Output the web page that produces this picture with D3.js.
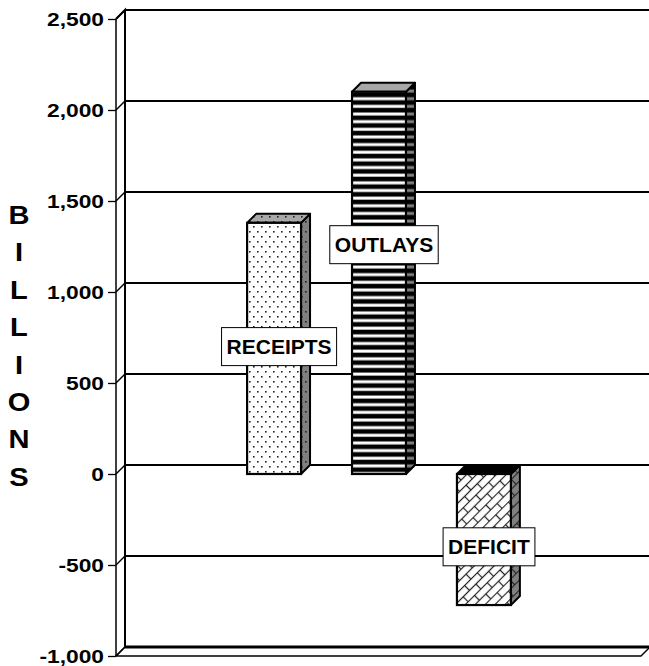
<!DOCTYPE html>
<html>
<head>
<meta charset="utf-8">
<script src="https://cdn.jsdelivr.net/npm/d3@7"></script>
<style>
  html, body { margin: 0; padding: 0; background: #fff; }
  svg { display: block; font-family: Arial, "Liberation Sans", sans-serif; }
</style>
</head>
<body>
<div id="chart"></div>
<script>
// ── data ──
const categories = ['RECEIPTS', 'OUTLAYS', 'DEFICIT'];
const values = [1380, 2100, -720];
const labelAt = [700, 1260, -400];   // value where each bar label sits
const yTicks = [-1000, -500, 0, 500, 1000, 1500, 2000, 2500];
const axisTitle = 'BILLIONS';

const W = 649, H = 666;
const depth = { dx: 9, dy: -9 };
const stretch = 1.2;   // the original lettering is a little wider than Arial

const svg = d3.select('#chart').append('svg')
  .attr('width', W).attr('height', H);

const y = d3.scaleLinear().domain([-1000, 2500]).range([656, 19]);
const x = d3.scaleBand().domain(categories)
  .range([117, 641]).paddingInner(0.486).paddingOuter(1.24);

// ── patterns ──
const defs = svg.append('defs');

function dotPattern(id, bg) {
  const p = defs.append('pattern').attr('id', id)
    .attr('patternUnits', 'userSpaceOnUse').attr('width', 8).attr('height', 10);
  p.append('rect').attr('width', 8).attr('height', 10).attr('fill', bg);
  p.append('rect').attr('x', 1).attr('y', 1).attr('width', 1.6).attr('height', 1.6).attr('fill', '#222');
  p.append('rect').attr('x', 5).attr('y', 6).attr('width', 1.6).attr('height', 1.6).attr('fill', '#222');
}
function stripePattern(id, bg) {
  const p = defs.append('pattern').attr('id', id)
    .attr('patternUnits', 'userSpaceOnUse').attr('width', 10).attr('height', 7.65)
    .attr('y', 2);
  p.append('rect').attr('width', 10).attr('height', 7.65).attr('fill', '#000');
  p.append('rect').attr('y', 3.4).attr('width', 10).attr('height', 3).attr('fill', bg);
}
function brickPattern(id, bg) {
  const p = defs.append('pattern').attr('id', id)
    .attr('patternUnits', 'userSpaceOnUse').attr('width', 18).attr('height', 14)
    .attr('patternTransform', 'rotate(-45)');
  p.append('rect').attr('width', 18).attr('height', 14).attr('fill', bg);
  const st = '#222';
  const seg = (x1, y1, x2, y2) => p.append('line')
    .attr('x1', x1).attr('y1', y1).attr('x2', x2).attr('y2', y2)
    .attr('stroke', st).attr('stroke-width', 1.2);
  seg(0, 0.5, 18, 0.5);
  seg(0, 7.5, 18, 7.5);
  seg(4.5, 0.5, 4.5, 7.5);
  seg(13.5, 7.5, 13.5, 14);
}

dotPattern('dots-front', '#fff');
dotPattern('dots-side', '#808080');
dotPattern('dots-top', '#a8a8a8');
stripePattern('stripe-front', '#fff');
stripePattern('stripe-side', '#808080');
brickPattern('brick-front', '#fff');
brickPattern('brick-side', '#808080');

const fills = [
  { front: 'url(#dots-front)', side: 'url(#dots-side)', top: 'url(#dots-top)' },
  { front: 'url(#stripe-front)', side: 'url(#stripe-side)', top: '#a8a8a8' },
  { front: 'url(#brick-front)', side: 'url(#brick-side)', top: '#000' }
];

// ── back wall, gridlines, floor ──
const xL = x.range()[0] - 1, xR = x.range()[1];
const backL = xL + depth.dx, backR = xR + depth.dx;

svg.append('g').selectAll('line.grid')
  .data(yTicks.slice(1)).enter().append('line')
  .attr('x1', backL).attr('x2', backR)
  .attr('y1', d => y(d) + depth.dy).attr('y2', d => y(d) + depth.dy)
  .attr('stroke', '#000').attr('stroke-width', 2.2);

// floor
const y0 = y(-1000);
svg.append('path')
  .attr('d', `M${xL},${y0}L${backL},${y0 + depth.dy}L${backR},${y0 + depth.dy}L${xR},${y0}Z`)
  .attr('fill', '#fff').attr('stroke', '#000').attr('stroke-width', 1.3);
svg.append('line')
  .attr('x1', backL).attr('x2', backR)
  .attr('y1', y0 + depth.dy).attr('y2', y0 + depth.dy)
  .attr('stroke', '#000').attr('stroke-width', 3);

// left wall
svg.append('path')
  .attr('d', `M${xL},${y(2500)}L${backL},${y(2500) + depth.dy}L${backL},${y0 + depth.dy}`)
  .attr('fill', 'none').attr('stroke', '#000').attr('stroke-width', 2);

// diagonal connectors from axis to back wall
svg.append('g').selectAll('line')
  .data(yTicks).enter().append('line')
  .attr('x1', xL).attr('y1', d => y(d))
  .attr('x2', backL).attr('y2', d => y(d) + depth.dy)
  .attr('stroke', '#000').attr('stroke-width', 1.5);

// ── value axis ──
const fmt = d => d3.format(',')(d).replace('\u2212', '-');
const axis = svg.append('g')
  .attr('transform', `translate(${xL},0)`)
  .call(d3.axisLeft(y).tickValues(yTicks).tickSize(8).tickPadding(4).tickFormat(fmt));
axis.select('.domain').attr('stroke-width', 1.5).attr('d', `M0,${y(2500)}V${y0}`);
axis.selectAll('.tick line').attr('stroke-width', 1.3);
axis.selectAll('text')
  .attr('fill', '#000').style('font-size', '19px').style('font-weight', 'bold')
  .attr('transform', `translate(-12,0) scale(${stretch},1) translate(12,0)`);

// axis title, stacked letters
svg.append('g').selectAll('text')
  .data(axisTitle.split('')).enter().append('text')
  .attr('x', 0).attr('y', 0)
  .attr('transform', (d, i) => `translate(19,${224 + i * 37.4}) scale(1.12,1)`)
  .attr('text-anchor', 'middle')
  .style('font-size', '26px').style('font-weight', 'bold')
  .text(d => d);

// ── bars ──
const bars = svg.append('g').selectAll('g.bar')
  .data(categories.map((c, i) => ({ c, v: values[i], i }))).enter().append('g');

bars.each(function(d) {
  const g = d3.select(this);
  const x0 = x(d.c), w = x.bandwidth();
  const yt = y(Math.max(0, d.v)), yb = y(Math.min(0, d.v));
  const f = fills[d.i];
  const dx = depth.dx, dy = depth.dy;
  // side
  g.append('path')
    .attr('d', `M${x0 + w},${yt}L${x0 + w + dx},${yt + dy}L${x0 + w + dx},${yb + dy}L${x0 + w},${yb}Z`)
    .attr('fill', f.side).attr('stroke', '#000').attr('stroke-width', 2).attr('stroke-linejoin', 'round');
  // top
  g.append('path')
    .attr('d', `M${x0},${yt}L${x0 + dx},${yt + dy}L${x0 + w + dx},${yt + dy}L${x0 + w},${yt}Z`)
    .attr('fill', f.top).attr('stroke', '#000').attr('stroke-width', 2).attr('stroke-linejoin', 'round');
  // front
  g.append('rect')
    .attr('x', x0).attr('y', yt).attr('width', w).attr('height', yb - yt)
    .attr('fill', f.front).attr('stroke', '#000').attr('stroke-width', 2.2);
});

// ── bar labels ──
const labels = svg.append('g').selectAll('g.lab')
  .data(categories.map((c, i) => ({ c, at: labelAt[i] }))).enter().append('g')
  .attr('transform', d => `translate(${x(d.c) + x.bandwidth() / 2 + 5},${y(d.at)})`);

labels.append('text')
  .attr('text-anchor', 'middle').attr('dy', '0.36em')
  .style('font-size', '21px').style('font-weight', 'bold')
  .text(d => d.c);

labels.each(function() {
  const g = d3.select(this);
  const bb = g.select('text').node().getBBox();
  g.insert('rect', 'text')
    .attr('x', bb.x - 5).attr('y', -19).attr('width', bb.width + 10).attr('height', 38)
    .attr('fill', '#fff').attr('stroke', '#000').attr('stroke-width', 1);
});
</script>
</body>
</html>
